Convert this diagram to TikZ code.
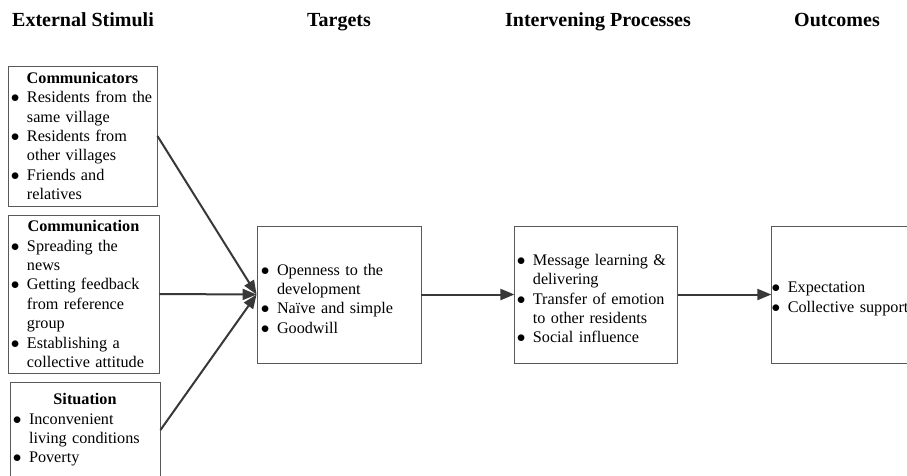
\documentclass[tikz,border=0pt]{standalone}
\usepackage{fontspec}
\setmainfont{Liberation Serif}
\usepackage{enumitem}
\usetikzlibrary{positioning,arrows.meta}

\setlist[itemize]{label=$\bullet$, nosep, leftmargin=16pt, labelsep=7.5pt}
\newcommand{\boxtitle}[1]{\makebox[\linewidth][c]{\bfseries #1}\par}

\begin{document}
\begin{tikzpicture}
  [x=1pt, y=-1pt, node distance=93pt,
   every node/.style={font=\fontsize{16.2}{19.4}\selectfont, inner xsep=3pt, inner ysep=2pt},
   head/.style={font=\fontsize{20}{24}\selectfont\bfseries, anchor=base, inner sep=0pt},
   box/.style={draw=black!65, line width=0.9pt, align=left},
   link/.style={draw=black!78, line width=2pt, -{Triangle[length=14pt,width=11pt]}}]

  \useasboundingbox (0,0) rectangle (907,475);

  % headings
  \node[head] (hstim) at (83,26) {External Stimuli};
  \node[head] (htarg) at (339,26) {Targets};
  \node[head] (hproc) at (598,26) {Intervening Processes};
  \node[head] (hout) at (837,26) {Outcomes};

  % external stimuli
  \node[box, text width=143pt, minimum height=140pt] (comm) at (82.5,136) {
    \boxtitle{Communicators}
    \begin{itemize}
      \item Residents from the\newline same village
      \item Residents from\newline other villages
      \item Friends and\newline relatives
    \end{itemize}};
  \node[box, text width=145pt, minimum height=158pt] (commun) at (83.5,294) {
    \boxtitle{Communication}
    \begin{itemize}
      \item Spreading the\newline news
      \item Getting feedback\newline from reference\newline group
      \item Establishing a\newline collective attitude
    \end{itemize}};
  \node[box, text width=144pt, minimum height=96pt] (situ) at (85,430) {
    \boxtitle{Situation}
    \begin{itemize}
      \item Inconvenient\newline living conditions
      \item Poverty
    \end{itemize}};

  % targets, processes, outcomes
  \node[box, text width=158pt, minimum height=137pt] (targ) at (339,294.5) {
    \begin{itemize}[leftmargin=17pt]
      \item Openness to the\newline development
      \item Na\"ive and simple
      \item Goodwill
    \end{itemize}};
  \node[box, text width=157pt, minimum height=137pt, right=of targ] (proc) {
    \begin{itemize}[leftmargin=15pt]
      \item Message learning \&\newline delivering
      \item Transfer of emotion\newline to other residents
      \item Social influence
    \end{itemize}};
  \node[box, text width=157pt, minimum height=137pt, right=of proc] (out) {
    \begin{itemize}[leftmargin=13pt]
      \item Expectation
      \item Collective support
    \end{itemize}};

  % arrows
  \draw[link] (comm.east) -- (targ.west);
  \draw[link] (commun.east) -- (targ.west);
  \draw[link] (situ.east) -- (targ.west);
  \draw[link] (targ) -- (proc);
  \draw[link] (proc) -- (out);
\end{tikzpicture}
\end{document}
